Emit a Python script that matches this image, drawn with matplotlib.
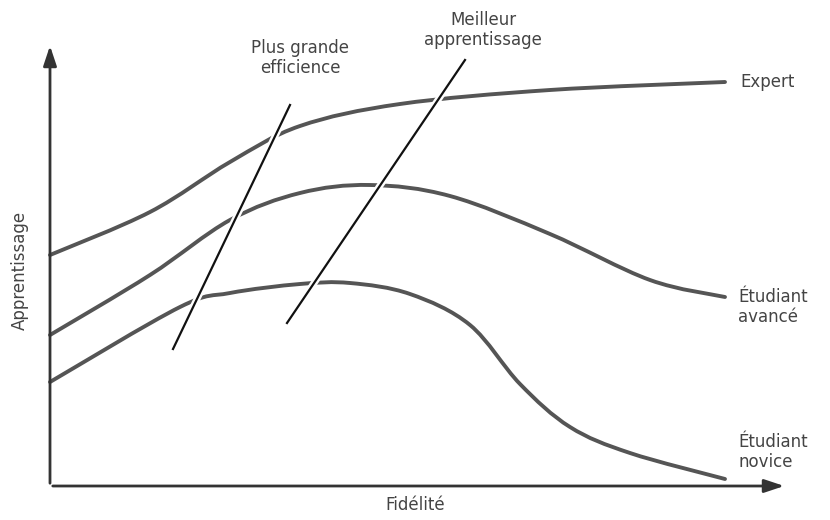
import matplotlib.pyplot as plt
import matplotlib.patheffects as pe
from matplotlib.path import Path
from matplotlib.patches import PathPatch

# conceptual curves (arbitrary units, origin at the axes corner)
fid_exp = [0, 100, 180, 250, 350, 500, 675]
expert = [231, 274, 324, 360, 382, 396, 404]

fid_av = [0, 100, 180, 250, 320, 400, 500, 600, 675]
avance = [151, 211, 266, 293, 301, 290, 252, 206, 189]

fid_nov = [0, 130, 180, 250, 300, 360, 420, 470, 520, 580, 675]
novice = [104, 179, 193, 202, 203, 192, 161, 102, 59, 33, 7]

# the two diagonal guide lines
eff_x, eff_y = [123, 240], [137, 381]
app_x, app_y = [237, 415], [163, 426]

grey = "#555555"
plt.rcParams['font.family'] = ['DejaVu Sans']


def smooth_path(xs, ys):
    # catmull-rom through the read points, drawn as cubic bezier segments
    pts = list(zip(xs, ys))
    verts = [pts[0]]
    codes = [Path.MOVETO]
    n = len(pts)
    for i in range(n - 1):
        p0 = pts[max(i - 1, 0)]
        p1 = pts[i]
        p2 = pts[i + 1]
        p3 = pts[min(i + 2, n - 1)]
        c1 = (p1[0] + (p2[0] - p0[0]) / 6, p1[1] + (p2[1] - p0[1]) / 6)
        c2 = (p2[0] - (p3[0] - p1[0]) / 6, p2[1] - (p3[1] - p1[1]) / 6)
        verts += [c1, c2, p2]
        codes += [Path.CURVE4] * 3
    return Path(verts, codes)


fig = plt.figure(figsize=(8.3, 5.2), dpi=100)
ax = fig.add_axes([0, 0, 1, 1])
ax.set_xlim(-50, 780)
ax.set_ylim(-34, 486)
ax.axis('off')

# axes with arrows
ax.annotate('', xy=(737, 0), xytext=(0, 0),
            arrowprops=dict(arrowstyle='-|>,head_length=1.2,head_width=0.4', color='#333333', lw=2))
ax.annotate('', xy=(0, 443), xytext=(0, 0),
            arrowprops=dict(arrowstyle='-|>,head_length=1.2,head_width=0.4', color='#333333', lw=2))

for xs, ys in [(fid_exp, expert), (fid_av, avance), (fid_nov, novice)]:
    ax.add_patch(PathPatch(smooth_path(xs, ys), facecolor='none', edgecolor=grey,
                           lw=2.8, capstyle='round', joinstyle='round'))

halo = [pe.Stroke(linewidth=5, foreground='white'), pe.Normal()]
ax.plot(eff_x, eff_y, color='#111111', lw=1.6, path_effects=halo)
ax.plot(app_x, app_y, color='#111111', lw=1.6, path_effects=halo)

fs = 12
tc = '#444444'
ax.text(250, 428, 'Plus grande\nefficience', ha='center', va='center', fontsize=fs, color=tc, linespacing=1.2)
ax.text(433, 456, 'Meilleur\napprentissage', ha='center', va='center', fontsize=fs, color=tc, linespacing=1.2)
ax.text(690, 404, 'Expert', ha='left', va='center', fontsize=fs, color=tc)
ax.text(688, 179, 'Étudiant\navancé', ha='left', va='center', fontsize=fs, color=tc, linespacing=1.15)
ax.text(688, 34, 'Étudiant\nnovice', ha='left', va='center', fontsize=fs, color=tc, linespacing=1.15)
ax.text(365, -19, 'Fidélité', ha='center', va='center', fontsize=fs, color=tc)
ax.text(-30, 216, 'Apprentissage', ha='center', va='center', rotation=90, fontsize=fs, color=tc)

fig.savefig('out.png', dpi=100)
